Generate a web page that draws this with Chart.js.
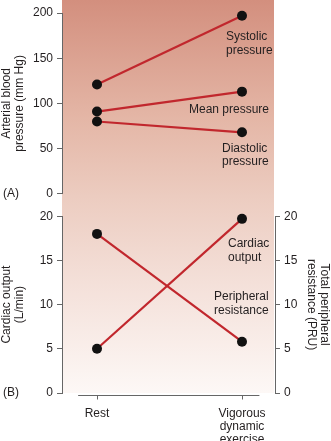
<!DOCTYPE html>
<html>
<head>
<meta charset="utf-8">
<script src="https://cdn.jsdelivr.net/npm/chart.js@4/dist/chart.umd.min.js"></script>
<style>
  body { margin: 0; background: #fff; }
  #wrap { position: relative; width: 331px; height: 441px; overflow: hidden; }
  #bg {
    position: absolute; left: 62px; top: 0; width: 212px; height: 393px;
    background: linear-gradient(to bottom, #d38f7e 0%, #e4b6a6 30%, #ecccc0 50%, #f4e0d9 72%, #fdf8f6 100%);
  }
  canvas { position: absolute; left: 0; }
  #chartA { top: 0; }
  #chartB { top: 205px; }
</style>
</head>
<body>
<div id="wrap">
  <div id="bg"></div>
  <canvas id="chartA" width="331" height="205"></canvas>
  <canvas id="chartB" width="331" height="236"></canvas>
</div>
<script>
// categories (x positions 0 and 1)
const categories = ["Rest", ["Vigorous", "dynamic", "exercise"]];

// (A) arterial blood pressure, mm Hg
const systolic = [121, 197];
const meanPressure = [91, 113];
const diastolic = [80, 68];

// (B) cardiac output L/min and peripheral resistance PRU
const cardiacOutput = [5, 19.7];
const peripheralRes = [18, 5.8];

const pressureTicks = [0, 50, 100, 150, 200];
const bottomTicks = [0, 5, 10, 15, 20];

const RED = "#c1272d";
const TXT = "#231f20";
const AXIS = "#666";
const FONT = "'Liberation Sans', Arial, sans-serif";

function pts(arr) {
  return arr.map((v, i) => ({ x: i, y: v }));
}

function lineSet(label, data, note, dx, dy, axis) {
  return {
    label: label,
    data: pts(data),
    yAxisID: axis || "y",
    borderColor: RED,
    borderWidth: 2.2,
    pointRadius: 5,
    pointHoverRadius: 5,
    pointBackgroundColor: "#111",
    pointBorderColor: "#111",
    pointBorderWidth: 0,
    clip: false,
    note: note, noteDx: dx, noteDy: dy,
  };
}

// text beside the exercise point of each line + panel letter
const notesPlugin = {
  id: "notes",
  afterDatasetsDraw(chart, args, opts) {
    const ctx = chart.ctx;
    ctx.save();
    ctx.font = "12px " + FONT;
    ctx.fillStyle = TXT;
    ctx.textAlign = "left";
    ctx.textBaseline = "middle";
    chart.data.datasets.forEach((ds, i) => {
      const p = chart.getDatasetMeta(i).data[1];
      ds.note.forEach((t, k) => {
        ctx.fillText(t, p.x + ds.noteDx, p.y + ds.noteDy + k * 13.5);
      });
    });
    ctx.fillText(opts.tag, 3, chart.scales.y.getPixelForValue(0));
    ctx.restore();
  }
};

// short x axis line with two ticks
const xLinePlugin = {
  id: "xline",
  afterDraw(chart, args, opts) {
    const ctx = chart.ctx, x = chart.scales.x;
    const yy = chart.chartArea.bottom + 2.5;
    ctx.save();
    ctx.strokeStyle = AXIS;
    ctx.lineWidth = 1;
    ctx.beginPath();
    ctx.moveTo(x.getPixelForValue(opts.from), yy);
    ctx.lineTo(x.getPixelForValue(opts.to), yy);
    [0, 1].forEach(v => {
      const px = Math.round(x.getPixelForValue(v)) + 0.5;
      ctx.moveTo(px, yy);
      ctx.lineTo(px, yy + 4);
    });
    ctx.stroke();
    ctx.restore();
  }
};

function yAxis(min, max, ticks, title, pos, width) {
  return {
    type: "linear",
    position: pos,
    min: min, max: max,
    afterBuildTicks: s => { s.ticks = ticks.map(v => ({ value: v })); },
    afterFit: s => { s.width = width; },
    grid: { drawOnChartArea: false, tickLength: 5, color: AXIS },
    border: { color: AXIS, width: 1 },
    ticks: { font: { family: FONT, size: 12 }, color: TXT, padding: 4 },
    title: {
      display: true, text: title, color: TXT, padding: 0,
      font: { family: FONT, size: 12, lineHeight: 1.1 }
    }
  };
}

const xMin = -0.2414, xMax = 1.2276;

new Chart(document.getElementById("chartA"), {
  type: "line",
  data: {
    datasets: [
      lineSet("Systolic pressure", systolic, ["Systolic", "pressure"], -16, 21),
      lineSet("Mean pressure", meanPressure, ["Mean pressure"], -53, 18),
      lineSet("Diastolic pressure", diastolic, ["Diastolic", "pressure"], -20, 16),
    ]
  },
  options: {
    responsive: false,
    animation: false,
    devicePixelRatio: 1,
    layout: { padding: { top: 13, bottom: 11, left: 0, right: 56 } },
    plugins: {
      legend: { display: false }, tooltip: { enabled: false },
      notes: { tag: "(A)" }
    },
    scales: {
      x: { type: "linear", min: xMin, max: xMax, display: false },
      y: yAxis(0, 200, pressureTicks, ["Arterial blood", "pressure (mm Hg)"], "left", 62),
    }
  },
  plugins: [notesPlugin]
});

new Chart(document.getElementById("chartB"), {
  type: "line",
  data: {
    datasets: [
      lineSet("Cardiac output", cardiacOutput, ["Cardiac", "output"], -14, 25, "y"),
      lineSet("Peripheral resistance", peripheralRes, ["Peripheral", "resistance"], -28, -45, "y2"),
    ]
  },
  options: {
    responsive: false,
    animation: false,
    devicePixelRatio: 1,
    layout: { padding: { top: 7, bottom: 0, left: 0, right: 0 } },
    plugins: {
      legend: { display: false }, tooltip: { enabled: false },
      notes: { tag: "(B)" },
      xline: { from: -0.13, to: 1.12 }
    },
    scales: {
      x: {
        type: "linear", min: xMin, max: xMax,
        afterBuildTicks: s => { s.ticks = [{ value: 0 }, { value: 1 }]; },
        afterFit: s => { s.height = 48; },
        grid: { display: false },
        border: { display: false },
        ticks: {
          autoSkip: false, maxRotation: 0, padding: 6,
          font: { family: FONT, size: 12, lineHeight: 1.1 }, color: TXT,
          callback: v => categories[v]
        }
      },
      y: yAxis(0, 20, bottomTicks, ["Cardiac output", "(L/min)"], "left", 62),
      y2: yAxis(0, 20, bottomTicks, ["Total peripheral", "resistance (PRU)"], "right", 56),
    }
  },
  plugins: [notesPlugin, xLinePlugin]
});
</script>
</body>
</html>
